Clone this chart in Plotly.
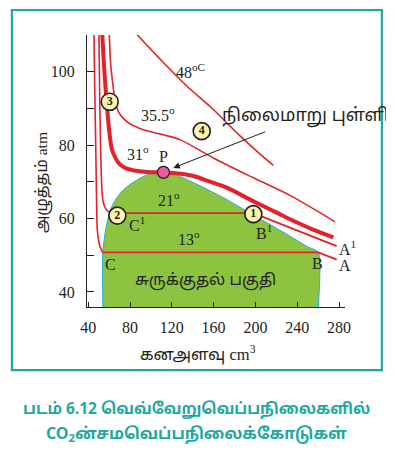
import plotly.graph_objects as go

# ---------------- data ----------------
# condensation (liquid + gas) region boundary
dome_x = [53.9, 53.9, 55.2, 57.0, 59.0, 61.5, 65.0, 69.0, 74.0, 80.0, 89.6, 100.0, 112.0, 120.0, 130.0, 140.6, 155.0, 172.5, 191.7, 210.8, 233.1, 250.0, 260.2, 260.2]
dome_y = [35.9, 50.7, 54.0, 57.5, 60.0, 62.5, 64.6, 66.3, 67.9, 69.3, 71.0, 72.3, 72.7, 72.3, 71.2, 69.8, 67.8, 65.2, 62.0, 58.9, 55.2, 52.3, 50.8, 35.9]

# 13 deg isotherm
t13_curve_x = [45.5, 46.3, 47.2, 48.0, 48.7, 50.0, 51.3, 53.9]
t13_curve_y = [110.0, 95.0, 80.0, 65.0, 57.0, 54.0, 52.3, 50.8]
t13_line_x = [53.9, 260.2, 277.8]
t13_line_y = [50.8, 50.8, 48.8]

# 21 deg isotherm
t21_curve_x = [50.3, 50.9, 51.8, 52.8, 53.9, 55.5, 58.0, 62.0]
t21_curve_y = [110.0, 95.0, 80.0, 70.0, 65.2, 63.4, 62.2, 61.5]
t21_line_x = [62.0, 198.0, 207.6, 277.8]
t21_line_y = [61.5, 61.5, 60.4, 52.5]

# 31 deg (critical) isotherm
t31_x = [53.5, 55.5, 57.7, 59.5, 61.0, 62.5, 64.7, 68.0, 71.0, 77.0, 83.8, 96.0, 112.0, 118.3, 128.4, 140.6, 155.0, 172.5, 198.0, 220.4, 233.1, 255.0, 274.6]
t31_y = [110.0, 100.0, 91.6, 85.5, 81.8, 79.0, 77.3, 75.6, 74.6, 73.6, 73.1, 72.7, 72.6, 72.5, 72.2, 71.6, 70.2, 68.4, 64.7, 61.6, 59.8, 57.0, 54.9]

# 35.5 deg isotherm
t355_x = [60.2, 61.5, 63.4, 65.0, 66.6, 69.5, 73.6, 80.0, 86.4, 91.2, 111.9, 127.8, 159.7, 198.0, 233.1, 276.2]
t355_y = [110.0, 102.0, 97.0, 93.5, 91.0, 88.8, 87.3, 85.8, 84.9, 84.3, 82.8, 81.5, 76.5, 71.1, 66.3, 59.1]

# 48 deg isotherm
t48_x = [86.4, 111.9, 134.3, 159.7, 185.3, 214.0, 217.2]
t48_y = [110.2, 102.5, 96.1, 89.7, 82.5, 75.2, 74.5]

# critical point P
p_x = [112.0]
p_y = [72.6]

# numbered circles
circ_x = [198.0, 67.9, 60.6, 148.6]
circ_y = [61.2, 60.8, 91.8, 83.8]
circ_lab = ["1", "2", "3", "4"]

x_ticks = [40, 80, 120, 160, 200, 240, 280]
x_ticktext = ["40", "80", "120", "160", "200", "240", "280"]
y_ticks = [40, 60, 80, 100]
y_ticktext = ["40", "60", "80", "100"]
y_minor_ticks = [50, 70, 90, 110]

# ---------------- style ----------------
RED = "#e4222a"
DARK = "#231f20"
TEAL = "#1ea8a0"
GREEN = "#8cc43f"
SERIF = "Liberation Serif, Times New Roman, serif"
TAMIL = "Noto Sans Tamil, Noto Sans, Lato, sans-serif"

fig = go.Figure()

fig.add_trace(go.Scatter(x=dome_x, y=dome_y, mode="lines", fill="toself",
                         fillcolor=GREEN, line=dict(color="#29abe2", width=1, shape="spline", smoothing=0.6),
                         hoverinfo="skip", showlegend=False))

def red_line(x, y, w, spline=True):
    fig.add_trace(go.Scatter(x=x, y=y, mode="lines",
                             line=dict(color=RED, width=w, shape="spline" if spline else "linear",
                                       smoothing=0.8),
                             hoverinfo="skip", showlegend=False))

red_line(t13_curve_x, t13_curve_y, 1.6)
red_line(t13_line_x, t13_line_y, 1.8, spline=False)
red_line(t21_curve_x, t21_curve_y, 1.6)
red_line(t21_line_x, t21_line_y, 1.8, spline=False)
red_line(t355_x, t355_y, 1.6)
red_line(t48_x, t48_y, 1.6)
red_line(t31_x, t31_y, 4.0)

fig.add_trace(go.Scatter(x=p_x, y=p_y, mode="markers",
                         marker=dict(size=12, color="#ea5ba1", line=dict(color=DARK, width=1.2)),
                         hoverinfo="skip", showlegend=False))

fig.add_trace(go.Scatter(x=circ_x, y=circ_y, mode="markers+text", text=circ_lab,
                         textposition="middle center",
                         textfont=dict(family=SERIF, size=12, color=DARK, weight="bold"),
                         marker=dict(size=17, color="#fdf3b2", line=dict(color=DARK, width=1.6)),
                         hoverinfo="skip", showlegend=False))

def lab(x, y, text, anchor="left", size=16, family=SERIF):
    fig.add_annotation(x=x, y=y, xref="x", yref="y", text=text, showarrow=False,
                       xanchor=anchor, yanchor="middle",
                       font=dict(family=family, size=size, color=DARK))

lab(122.0, 100.3, "48<sup>oC</sup>")
lab(88.6, 88.4, "35.5<sup>o</sup>")
lab(74.9, 77.9, "31<sup>o</sup>")
lab(112.0, 77.0, "P", anchor="center")
lab(104.5, 65.2, "21<sup>o</sup>")
lab(124.3, 54.8, "13<sup>o</sup>")
lab(76.8, 58.4, "C<sup>1</sup>")
lab(198.6, 56.3, "B<sup>1</sup>")
lab(61.6, 47.5, "C", anchor="center")
lab(259.6, 47.8, "B", anchor="center")
lab(278.3, 52.0, "A<sup>1</sup>")
lab(278.3, 47.2, "A")
lab(152.0, 42.9, "சுருக்குதல் பகுதி", anchor="center", size=16, family=TAMIL)
lab(247.5, 87.8, "நிலைமாறு புள்ளி", anchor="center", size=18, family=TAMIL)

# arrow to the critical point
fig.add_annotation(x=121.4, y=73.8, ax=210.8, ay=83.8, xref="x", yref="y", axref="x", ayref="y",
                   text="", showarrow=True, arrowhead=2, arrowsize=1.3, arrowwidth=1,
                   arrowcolor=DARK)

# axis titles
fig.add_annotation(x=0.43, y=-0.176, xref="paper", yref="paper", showarrow=False,
                   text="கனஅளவு <span style='font-family:Liberation Serif'>cm<sup>3</sup></span>",
                   font=dict(family=TAMIL, size=16.5, color=DARK), xanchor="center", yanchor="middle")
fig.add_annotation(x=-0.17, y=0.456, xref="paper", yref="paper", showarrow=False, textangle=-90,
                   text="அழுத்தம் <span style='font-family:Liberation Serif'>atm</span>",
                   font=dict(family=TAMIL, size=15.5, color=DARK), xanchor="center", yanchor="middle")

# caption
fig.add_annotation(x=0.426, y=-0.379, xref="paper", yref="paper", showarrow=False,
                   text="<b>படம் 6.12 வெவ்வேறுவெப்பநிலைகளில்</b>",
                   font=dict(family=TAMIL, size=15.5, color=TEAL), xanchor="center", yanchor="middle")
fig.add_annotation(x=0.426, y=-0.471, xref="paper", yref="paper", showarrow=False,
                   text="<b>CO<sub>2</sub>ன்சமவெப்பநிலைக்கோடுகள்</b>",
                   font=dict(family=TAMIL, size=16, color=TEAL), xanchor="center", yanchor="middle")

# frame
fig.add_shape(type="rect", xref="paper", yref="paper", x0=-0.291, x1=1.143, y0=-0.232, y1=1.092,
              line=dict(color=TEAL, width=2.2), fillcolor="rgba(0,0,0,0)", layer="below")

fig.update_layout(
    width=386, height=448,
    margin=dict(l=79, r=49, t=27, b=149),
    paper_bgcolor="white", plot_bgcolor="white",
    xaxis=dict(range=[38.85, 285.7], showgrid=False, zeroline=False, showline=True,
               linecolor=DARK, linewidth=1.3, ticks="inside", ticklen=5, tickcolor=DARK,
               tickvals=x_ticks, ticktext=x_ticktext, ticklabelstandoff=6,
               tickfont=dict(family=SERIF, size=16, color=DARK)),
    yaxis=dict(range=[35.9, 110], showgrid=False, zeroline=False, showline=True,
               linecolor=DARK, linewidth=1.3, ticks="inside", ticklen=7, tickcolor=DARK,
               tickvals=y_ticks, ticktext=y_ticktext, ticklabelstandoff=8,
               minor=dict(tickvals=y_minor_ticks, ticks="inside", ticklen=7, tickcolor=DARK),
               tickfont=dict(family=SERIF, size=16, color=DARK)),
)

fig.write_html("out.html")
